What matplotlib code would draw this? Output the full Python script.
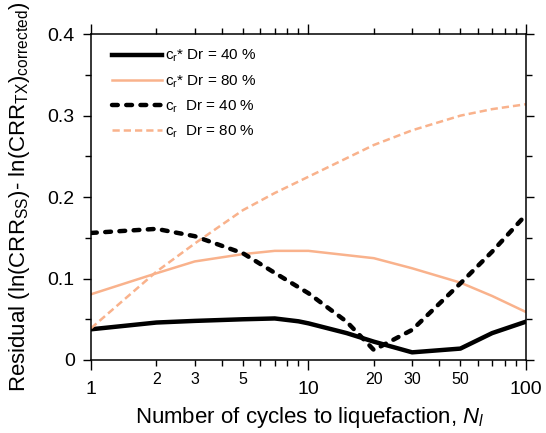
import matplotlib
matplotlib.use("Agg")
from matplotlib import pyplot as plt
from matplotlib.ticker import FixedLocator, NullFormatter
import numpy as np

plt.rcParams["font.family"] = ["Liberation Sans", "DejaVu Sans"]
plt.rcParams["mathtext.fontset"] = "custom"
plt.rcParams["mathtext.rm"] = "Liberation Sans"
plt.rcParams["mathtext.it"] = "Liberation Sans:italic"

n_cycles = [1, 2, 3, 5, 7, 9, 10, 15, 20, 30, 50, 70, 100]
crs_40 = [0.0377, 0.046, 0.048, 0.050, 0.051, 0.0475, 0.045, 0.033, 0.0225, 0.0094, 0.014, 0.033, 0.047]

n_80 = [1, 2, 3, 5, 7, 10, 20, 30, 50, 70, 100]
crs_80 = [0.0807, 0.1065, 0.121, 0.130, 0.134, 0.134, 0.125, 0.1126, 0.095, 0.0786, 0.059]

n_cr40 = [1, 2, 3, 5, 7, 10, 15, 20, 30, 50, 70, 100]
cr_40 = [0.156, 0.161, 0.152, 0.131, 0.107, 0.082, 0.047, 0.0123, 0.037, 0.094, 0.133, 0.178]

cr_80 = [0.039, 0.1085, 0.143, 0.184, 0.205, 0.225, 0.264, 0.282, 0.300, 0.308, 0.314]

orange = "#F9B28C"

fig = plt.figure(figsize=(5.46, 4.33), dpi=100)
ax = fig.add_axes([0.1667, 0.1686, 0.7963, 0.7524])

ax.plot(n_cycles, crs_40, color="black", lw=3.2, solid_joinstyle="round",
        label=r"c$_\mathregular{r}$* Dr = 40 %")
ax.plot(n_80, crs_80, color=orange, lw=1.8, label=r"c$_\mathregular{r}$* Dr = 80 %")
ax.plot(n_cr40, cr_40, color="black", lw=3.2, dashes=(1.3, 1.9), dash_capstyle="round",
        label=r"c$_\mathregular{r}$  Dr = 40 %")
ax.plot(n_80, cr_80, color=orange, lw=1.8, dashes=(2.9, 1.6),
        label=r"c$_\mathregular{r}$  Dr = 80 %")

ax.set_xscale("log")
ax.set_xlim(1, 100)
ax.set_ylim(0, 0.4)

ax.xaxis.set_major_locator(FixedLocator([1, 10, 100]))
ax.set_xticklabels(["1", "10", "100"], fontsize=14)
minors = [2, 3, 4, 5, 6, 7, 8, 9, 20, 30, 40, 50, 60, 70, 80, 90]
ax.xaxis.set_minor_locator(FixedLocator(minors))
ax.xaxis.set_minor_formatter(NullFormatter())
for v in [2, 3, 5, 20, 30, 50]:
    ax.text(v, -0.0245, str(v), ha="center", va="center", fontsize=11.5)

ax.set_yticks([0, 0.1, 0.2, 0.3, 0.4])
ax.set_yticklabels(["0", "0.1", "0.2", "0.3", "0.4"], fontsize=14)
ax.set_yticks([0.05, 0.15, 0.25, 0.35], minor=True)

ax.tick_params(axis="both", which="both", direction="out", top=True, right=True, width=1)
ax.tick_params(axis="x", which="major", length=7.2, pad=8)
ax.tick_params(axis="x", which="minor", length=4.3)
ax.tick_params(axis="y", which="major", length=5.8, pad=6)
ax.tick_params(axis="y", which="minor", length=4.3)
for s in ax.spines.values():
    s.set_linewidth(1.1)

ax.set_xlabel(r"Number of cycles to liquefaction, $\mathit{N_l}$", fontsize=16, va="center")
ax.xaxis.set_label_coords(0.503, -0.178)
ax.set_ylabel(r"Residual (ln(CRR$_\mathregular{SS}$)- ln(CRR$_\mathregular{TX}$)$_\mathregular{corrected}$)",
              fontsize=16, labelpad=11)

ax.legend(loc="upper left", frameon=False, fontsize=11, handlelength=3.3,
          handletextpad=0.2, labelspacing=0.58, borderpad=0, borderaxespad=0,
          bbox_to_anchor=(0.048, 0.958))

fig.savefig("out.png", dpi=100)
